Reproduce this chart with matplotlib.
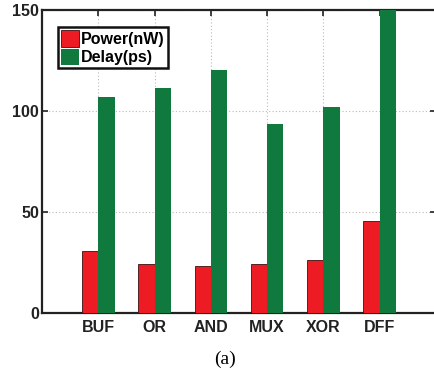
import matplotlib
matplotlib.use("Agg")
import matplotlib.pyplot as plt
import numpy as np

categories = ["BUF", "OR", "AND", "MUX", "XOR", "DFF"]
power_nw = [30.8, 24.3, 23.3, 24.4, 26.1, 45.7]
delay_ps = [107.1, 111.5, 120.1, 93.4, 102.1, 150.0]
yticks = [0, 50, 100, 150]

plt.rcParams['font.family'] = ['Liberation Sans', 'DejaVu Sans']

fig = plt.figure(figsize=(4.35, 3.74), dpi=100)
ax = fig.add_axes([42/435, 1-313/374, 394/435, 303/374])

x = np.arange(1, len(categories)+1)
w = 0.29
red = '#ED1C24'
green = '#107A3E'
ax.bar(x - w/2, power_nw, w, color=red, edgecolor='#3a1010', linewidth=0.6, label='Power(nW)', zorder=3)
ax.bar(x + w/2, delay_ps, w, color=green, edgecolor=green, linewidth=0.0, label='Delay(ps)', zorder=3)

ax.set_xlim(0, 7)
ax.set_ylim(0, 150)
ax.set_xticks(x)
ax.set_xticklabels(categories, fontweight='bold', fontsize=11.5)
ax.set_yticks(yticks)
ax.set_yticklabels([str(v) for v in yticks], fontweight='bold', fontsize=11.5)
ax.tick_params(direction='in', length=4, width=1.2, top=True, right=True, pad=2, colors='#222222')
ax.tick_params(axis='x', pad=5)
for lab in ax.get_xticklabels() + ax.get_yticklabels():
    lab.set_color('#222222')
ax.grid(True, linestyle=(0, (1, 2)), color='#bbbbbb', linewidth=0.8, zorder=0)
for s in ax.spines.values():
    s.set_linewidth(1.6)
    s.set_color('#222222')

leg = ax.legend(loc='upper left', bbox_to_anchor=(16/394, 1-17/303), prop={'weight': 'bold', 'size': 11.5},
                frameon=True, fancybox=False, borderpad=0.2, handlelength=1.1, handleheight=1.2,
                handletextpad=0.15, labelspacing=0.12, borderaxespad=0)
leg.get_frame().set_edgecolor('#111111')
leg.get_frame().set_linewidth(1.8)
leg.get_frame().set_alpha(1.0)

fig.text(225/435, 1-359/374, '(a)', ha='center', va='center', fontsize=14,
         family=['Liberation Serif', 'DejaVu Serif'])

fig.savefig('out.png', dpi=100)
